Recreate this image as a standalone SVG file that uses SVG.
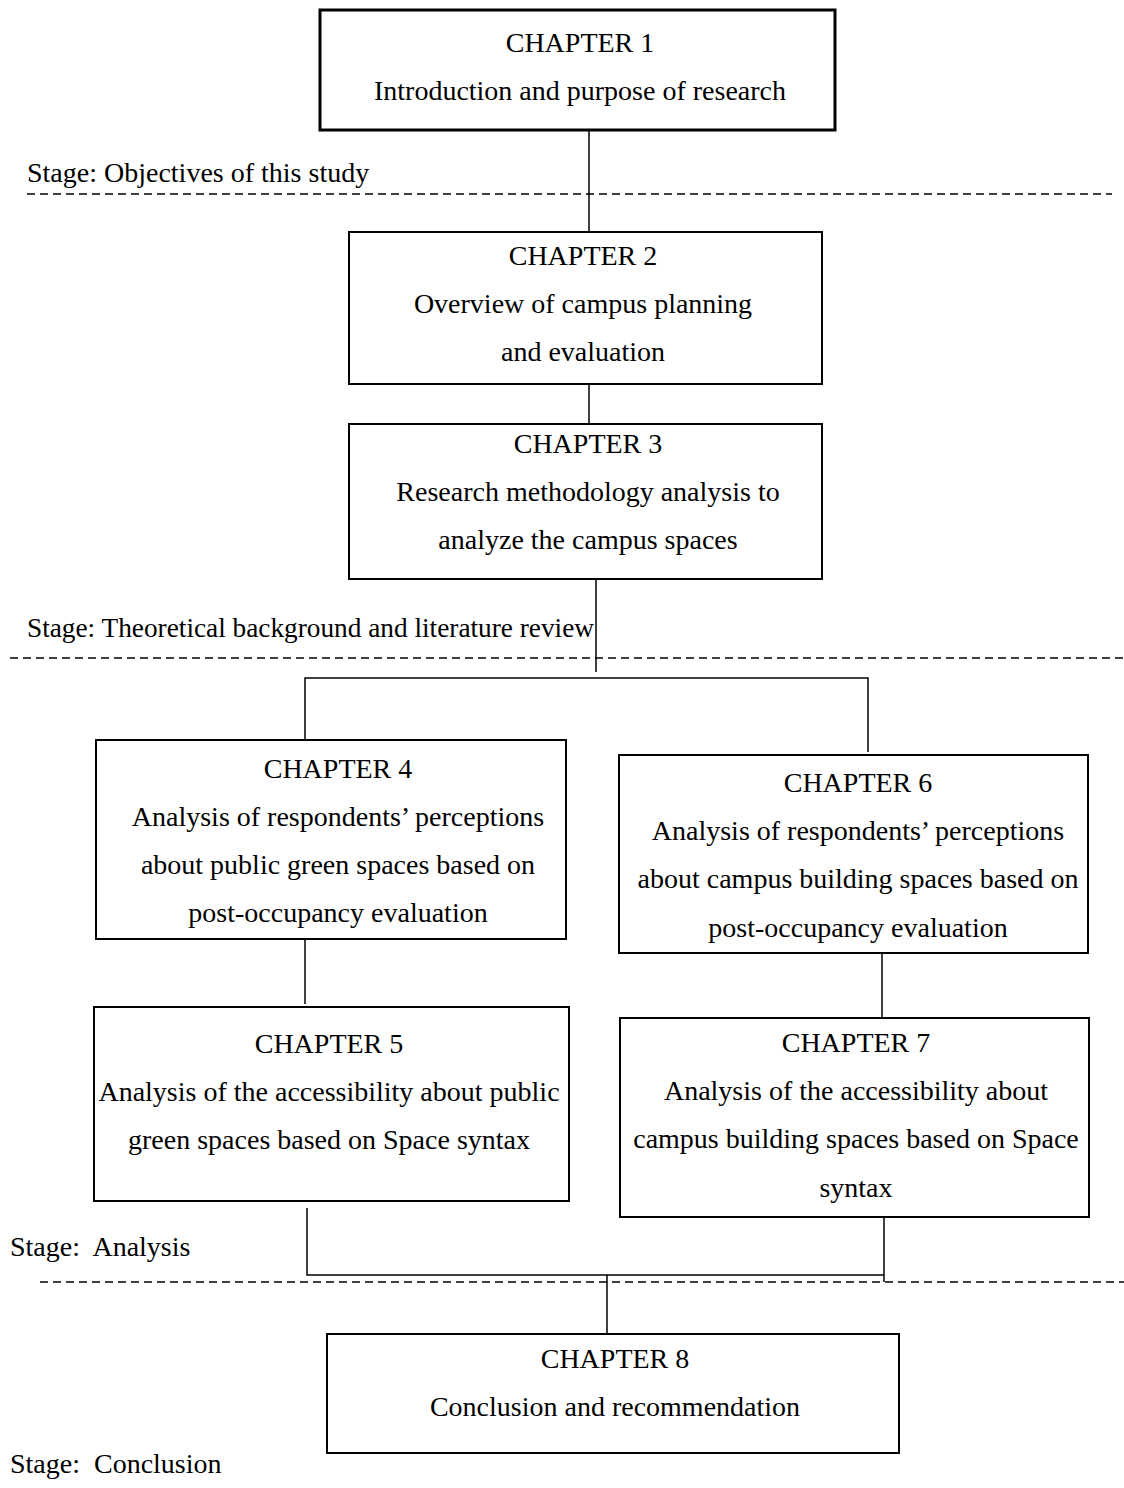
<svg xmlns="http://www.w3.org/2000/svg" width="1124" height="1488" viewBox="0 0 1124 1488">
  <style>
    text { font-family: "Liberation Serif", "Times New Roman", serif; font-size: 28px; fill: #000; }
    .c { text-anchor: middle; }
    .box { fill: #fff; stroke: #000; stroke-width: 2; }
    .box1 { fill: #fff; stroke: #000; stroke-width: 3; }
    .link { fill: none; stroke: #000; stroke-width: 1.5; }
    .dash { fill: none; stroke: #000; stroke-width: 1.5; stroke-dasharray: 8 5; }
  </style>
  <rect width="1124" height="1488" fill="#fff"/>

  <!-- stage separators -->
  <g id="stages">
    <line class="dash" x1="27" y1="194" x2="1112" y2="194"/>
    <line class="dash" x1="10" y1="658" x2="1124" y2="658"/>
    <line class="dash" x1="40" y1="1282" x2="1124" y2="1282"/>
    <text x="27" y="182">Stage: Objectives of this study</text>
    <text x="27" y="637" textLength="567" lengthAdjust="spacingAndGlyphs">Stage: Theoretical background and literature review</text>
    <text x="10" y="1256" xml:space="preserve">Stage:  Analysis</text>
    <text x="10" y="1473" xml:space="preserve">Stage:  Conclusion</text>
  </g>

  <!-- connectors -->
  <g id="connectors">
    <line class="link" x1="589" y1="130" x2="589" y2="232"/>
    <line class="link" x1="589" y1="384" x2="589" y2="424"/>
    <line class="link" x1="596" y1="579" x2="596" y2="672"/>
    <polyline class="link" points="305,740 305,678 868,678 868,752"/>
    <line class="link" x1="305" y1="939" x2="305" y2="1004"/>
    <line class="link" x1="882" y1="953" x2="882" y2="1018"/>
    <polyline class="link" points="307,1208 307,1275 884,1275"/>
    <line class="link" x1="884" y1="1217" x2="884" y2="1282"/>
    <line class="link" x1="607" y1="1275" x2="607" y2="1334"/>
  </g>

  <g id="chapter1">
    <rect class="box1" x="320" y="10" width="515" height="120"/>
    <text class="c" x="580" y="52">CHAPTER 1</text>
    <text class="c" x="580" y="100">Introduction and purpose of research</text>
  </g>

  <g id="chapter2">
    <rect class="box" x="349" y="232" width="473" height="152"/>
    <text class="c" x="583" y="265">CHAPTER 2</text>
    <text class="c" x="583" y="313">Overview of campus planning</text>
    <text class="c" x="583" y="361">and evaluation</text>
  </g>

  <g id="chapter3">
    <rect class="box" x="349" y="424" width="473" height="155"/>
    <text class="c" x="588" y="453">CHAPTER 3</text>
    <text class="c" x="588" y="501">Research methodology analysis to</text>
    <text class="c" x="588" y="549">analyze the campus spaces</text>
  </g>

  <g id="chapter4">
    <rect class="box" x="96" y="740" width="470" height="199"/>
    <text class="c" x="338" y="778">CHAPTER 4</text>
    <text class="c" x="338" y="826">Analysis of respondents’ perceptions</text>
    <text class="c" x="338" y="874">about public green spaces based on</text>
    <text class="c" x="338" y="922">post-occupancy evaluation</text>
  </g>

  <g id="chapter6">
    <rect class="box" x="619" y="755" width="469" height="198"/>
    <text class="c" x="858" y="792">CHAPTER 6</text>
    <text class="c" x="858" y="840">Analysis of respondents’ perceptions</text>
    <text class="c" x="858" y="888">about campus building spaces based on</text>
    <text class="c" x="858" y="937">post-occupancy evaluation</text>
  </g>

  <g id="chapter5">
    <rect class="box" x="94" y="1007" width="475" height="194"/>
    <text class="c" x="329" y="1053">CHAPTER 5</text>
    <text class="c" x="329" y="1101">Analysis of the accessibility about public</text>
    <text class="c" x="329" y="1149">green spaces based on Space syntax</text>
  </g>

  <g id="chapter7">
    <rect class="box" x="620" y="1018" width="469" height="199"/>
    <text class="c" x="856" y="1052">CHAPTER 7</text>
    <text class="c" x="856" y="1100">Analysis of the accessibility about</text>
    <text class="c" x="856" y="1148">campus building spaces based on Space</text>
    <text class="c" x="856" y="1197">syntax</text>
  </g>

  <g id="chapter8">
    <rect class="box" x="327" y="1334" width="572" height="119"/>
    <text class="c" x="615" y="1368">CHAPTER 8</text>
    <text class="c" x="615" y="1416">Conclusion and recommendation</text>
  </g>
</svg>
